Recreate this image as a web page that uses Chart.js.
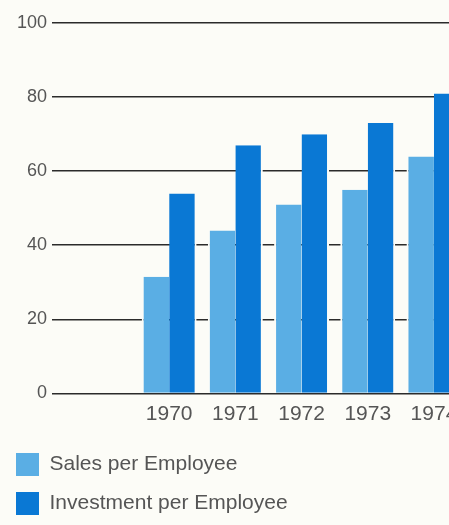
<!DOCTYPE html>
<html>
<head>
<meta charset="utf-8">
<script src="https://cdn.jsdelivr.net/npm/chart.js@4/dist/chart.umd.min.js"></script>
<style>
  html, body { margin: 0; padding: 0; background: #fcfcf7; overflow: hidden; }
  #wrap { width: 449px; height: 525px; overflow: hidden; position: relative; }
  canvas { display: block; }
</style>
</head>
<body>
<div id="wrap"><canvas id="c" width="520" height="525"></canvas></div>
<script>
const years = [1970, 1971, 1972, 1973, 1974];
const salesPerEmployee = [31.5, 44, 51, 55, 64];
const investmentPerEmployee = [54, 67, 70, 73, 81];
const yTicks = [0, 20, 40, 60, 80, 100];
const seriesNames = ['Sales per Employee', 'Investment per Employee'];

const BG = '#fcfcf7';
const LIGHT = '#5aaee4';
const DARK = '#0a78d4';
const TEXT = '#555555';
const FONT = "'Liberation Sans', Arial, Helvetica, sans-serif";

new Chart(document.getElementById('c'), {
  type: 'bar',
  data: {
    datasets: [
      {
        label: seriesNames[0],
        data: years.map((y, i) => ({ x: y, y: salesPerEmployee[i] })),
        backgroundColor: LIGHT,
        borderColor: BG,
        borderWidth: { left: 2, top: 0, right: 0, bottom: 0 },
        borderSkipped: false
      },
      {
        label: seriesNames[1],
        data: years.map((y, i) => ({ x: y, y: investmentPerEmployee[i] })),
        backgroundColor: DARK,
        borderColor: BG,
        borderWidth: { left: 0, top: 0, right: 2, bottom: 0 },
        borderSkipped: false
      }
    ]
  },
  options: {
    responsive: false,
    animation: false,
    devicePixelRatio: 1,
    layout: { padding: { top: 23, left: 0, right: 0, bottom: 0 } },
    datasets: { bar: { categoryPercentage: 0.83, barPercentage: 1 } },
    scales: {
      x: {
        type: 'linear',
        offset: false,
        bounds: 'data',
        min: 1968.23,
        max: 1975.3,
        grid: { display: false, drawTicks: false, offset: false },
        border: { display: false },
        afterBuildTicks: (axis) => { axis.ticks = years.map(v => ({ value: v })); },
        afterFit: (axis) => { axis.height = 43.5; },
        ticks: {
          autoSkip: false,
          maxRotation: 0,
          padding: 8,
          color: TEXT,
          font: { family: FONT, size: 21 },
          callback: (v) => String(v)
        }
      },
      y: {
        min: 0,
        max: 100,
        grid: { color: '#2b2b2b', lineWidth: 1.6, drawTicks: false },
        border: { display: false },
        afterBuildTicks: (axis) => { axis.ticks = yTicks.map(v => ({ value: v })); },
        afterFit: (axis) => { axis.width = 52; },
        ticks: {
          padding: 5,
          color: TEXT,
          font: { family: FONT, size: 18 },
          callback: (v) => String(v)
        }
      }
    },
    plugins: {
      tooltip: { enabled: false },
      legend: {
        display: true,
        position: 'bottom',
        align: 'start',
        labels: {
          boxWidth: 23,
          boxHeight: 23,
          padding: 16,
          color: TEXT,
          font: { family: FONT, size: 21 },
          generateLabels: (chart) => chart.data.datasets.map((ds, i) => ({
            text: ds.label,
            fillStyle: ds.backgroundColor,
            strokeStyle: ds.backgroundColor,
            fontColor: TEXT,
            lineWidth: 0,
            hidden: false,
            datasetIndex: i
          }))
        }
      }
    }
  }
});
</script>
</body>
</html>
